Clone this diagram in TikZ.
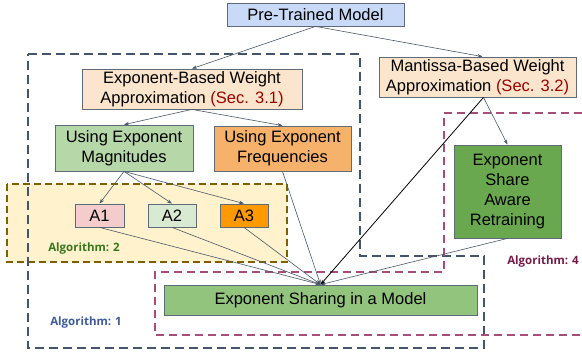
\documentclass[tikz,border=0pt]{standalone}
\usepackage{fontspec}
\setmainfont{Liberation Sans}
\newfontfamily\labelfont{Open Sans}
\usepackage{xcolor}
\usepackage{tikz}
\usetikzlibrary{arrows.meta,positioning,calc}

\definecolor{edgegray}{HTML}{4A5868}
\definecolor{boxgray}{HTML}{5F6B78}
\definecolor{prefill}{HTML}{C9DAF8}
\definecolor{peach}{HTML}{FCE5CD}
\definecolor{sagegreen}{HTML}{B6D7A8}
\definecolor{lightorange}{HTML}{F6B26B}
\definecolor{pinkA}{HTML}{F4CCCC}
\definecolor{mintA}{HTML}{D9EAD3}
\definecolor{orangeA}{HTML}{FF9900}
\definecolor{darkgreen}{HTML}{6AA84F}
\definecolor{midgreen}{HTML}{93C47D}
\definecolor{secred}{HTML}{990000}
\definecolor{algone}{HTML}{44546A}
\definecolor{algtwo}{HTML}{7F6000}
\definecolor{algtwofill}{HTML}{FFF2CC}
\definecolor{algfour}{HTML}{A64D79}
\definecolor{algonetext}{HTML}{3D5A99}
\definecolor{algtwotext}{HTML}{38761D}
\definecolor{algfourtext}{HTML}{741B47}

\begin{document}
\begin{tikzpicture}[x=1pt,y=-1pt,
		box/.style={draw=boxgray, line width=0.8pt, inner sep=0pt, align=center, font=\fontsize{16.5}{20}\selectfont},
		link/.style={draw=edgegray, line width=0.6pt, -{Stealth[length=5pt,width=3.5pt]}},
		alglabel/.style={font=\labelfont\bfseries\fontsize{11.5}{13}\selectfont, inner sep=0pt}]
		\useasboundingbox (0,0) rectangle (582,354);

		% algorithm regions
		\draw[algtwo, fill=algtwofill, line width=1.8pt, dash pattern=on 7pt off 4pt] (7,184) rectangle (287,262);
		\draw[algone, line width=2.4pt, dash pattern=on 9pt off 5pt] (28,54) -- (360,54) -- (360,256) -- (484,256) -- (484,348) -- (28,348) -- cycle;
		\draw[algfour, line width=1.5pt, dash pattern=on 8pt off 5pt] (582,113) -- (444,113) -- (444,272) -- (155,272) -- (155,335) -- (582,335);

		\node[alglabel, text=algtwotext] (lbltwo) at (84,249) {Algorithm: 2};
		\node[alglabel, text=algonetext] (lblone) at (86,323) {Algorithm: 1};
		\node[alglabel, text=algfourtext] (lblfour) at (543,262) {Algorithm: 4};

		% nodes
		\node[box, fill=prefill, minimum width=177pt, minimum height=23pt] (pre) at (315.5,14.5) {Pre-Trained Model};
		\node[box, fill=peach, minimum width=220pt, minimum height=40pt] (expo) at (192,89) {Exponent-Based Weight\\Approximation \textcolor{secred}{(Sec. 3.1)}};
		\node[box, fill=peach, minimum width=197pt, minimum height=40pt] (mant) at (477.5,77) {Mantissa-Based Weight\\Approximation \textcolor{secred}{(Sec. 3.2)}};
		\node[box, fill=sagegreen, minimum width=138pt, minimum height=46pt] (mag) at (124,148) {Using Exponent\\Magnitudes};
		\node[box, fill=lightorange, minimum width=137pt, minimum height=45pt] (freq) at (282.5,148.5) {Using Exponent\\Frequencies};
		\node[box, fill=pinkA, minimum width=49pt, minimum height=23pt] (aone) at (99.5,215.5) {A1};
		\node[box, fill=mintA, minimum width=48pt, minimum height=23pt] (atwo) at (172,215.5) {A2};
		\node[box, fill=orangeA, minimum width=48pt, minimum height=23pt] (athree) at (244,215.5) {A3};
		\node[box, fill=darkgreen, minimum width=107pt, minimum height=93pt] (retr) at (507.5,191.5) {Exponent\\Share\\Aware\\Retraining};
		\node[box, fill=midgreen, minimum width=313pt, minimum height=30pt] (share) at (320.5,300) {Exponent Sharing in a Model};

		% connectors
		\draw[link] (pre.south) -- (expo.north);
		\draw[link] (pre.south) -- ([xshift=5pt]mant.north);
		\draw[link] (expo.south) -- (mag.north);
		\draw[link] (expo.south) -- (freq.north);
		\draw[link] (mag.south) -- (aone.north);
		\draw[link] (mag.south) -- (atwo.north);
		\draw[link] (mag.south) -- (athree.north);
		\draw[link] (aone.south) -- (share.north);
		\draw[link] (atwo.south) -- (share.north);
		\draw[link] (athree.south) -- (share.north);
		\draw[link] (freq.south) -- (share.north);
		\draw[link] ([xshift=6pt]mant.south) -- (retr.north);
		\draw[link] (retr.south) -- (share.north);
		\draw[link, draw=black, line width=0.8pt] ([xshift=6pt]mant.south) -- (share.north);
	\end{tikzpicture}
\end{document}
